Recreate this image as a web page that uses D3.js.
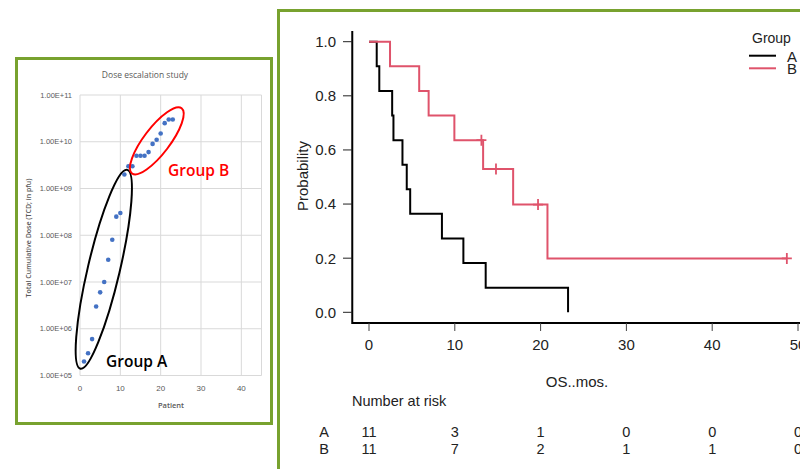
<!DOCTYPE html>
<html>
<head>
<meta charset="utf-8">
<script src="https://cdn.jsdelivr.net/npm/d3@7"></script>
<style>
  body { margin: 0; background: #fff; }
  svg { display: block; }
</style>
</head>
<body>
<div id="chart"></div>
<script>
// ---- data: dose escalation (left) ----
const patients = [1,2,3,4,5,6,7,8,9,10,11,12,13,14,15,16,17,18,19,20,21,22,23];
const doses = [2e5,3e5,6e5,3e6,6e6,1e7,3e7,8e7,2.5e8,3e8,2e9,3e9,3e9,5e9,5e9,5e9,6e9,9e9,1.1e10,1.5e10,2.5e10,3e10,3e10];
const doseTicks = [1e5,1e6,1e7,1e8,1e9,1e10,1e11];
const patientTicks = [0,10,20,30,40];

// ---- data: survival (right) ----
const groups = ["A","B"];
const A_times = [0.9,1.2,2.7,2.85,3.9,4.4,4.8,8.5,11.0,13.6,23.2];
const A_surv  = [0.909,0.818,0.727,0.636,0.545,0.455,0.364,0.273,0.182,0.091,0];
const B_times = [2.45,5.85,6.95,9.95,13.3,16.8,20.8,48.7];
const B_surv  = [0.909,0.818,0.727,0.636,0.530,0.398,0.199,0.199];
const B_censor_times = [13.1,14.8,19.7,48.7];
const B_censor_surv  = [0.636,0.530,0.398,0.199];
const timeTicks = [0,10,20,30,40,50];
const probTicks = [0,0.2,0.4,0.6,0.8,1.0];
const riskA = [11,3,1,0,0,0];
const riskB = [11,7,2,1,1,0];

const width = 800, height = 469;
const green = "#78a22f";
const grayTxt = "#595959";

const svg = d3.select("#chart").append("svg")
  .attr("width", width).attr("height", height);

//================ left panel =================
svg.append("rect")
  .attr("x", 16.5).attr("y", 58.5).attr("width", 255).attr("height", 365)
  .attr("fill", "#fff").attr("stroke", green).attr("stroke-width", 3);

const xL = d3.scaleLinear().domain([0,45]).range([80, 261.5]);
const yL = d3.scaleLog().domain([1e5,1e11]).range([375.5, 95]);

const gL = svg.append("g");

// gridlines
gL.selectAll(".hgrid").data(doseTicks).enter().append("line")
  .attr("x1", xL(0)).attr("x2", xL(45))
  .attr("y1", d => yL(d)).attr("y2", d => yL(d))
  .attr("stroke", "#d9d9d9").attr("stroke-width", 1);
gL.selectAll(".vgrid").data(patientTicks.concat([45])).enter().append("line")
  .attr("x1", d => xL(d)).attr("x2", d => xL(d))
  .attr("y1", yL(1e5)).attr("y2", yL(1e11))
  .attr("stroke", "#d9d9d9").attr("stroke-width", 1);

// tick labels
gL.selectAll(".ylab").data(doseTicks).enter().append("text")
  .attr("x", 72).attr("y", d => yL(d)).attr("dy", "0.35em")
  .attr("text-anchor", "end")
  .style("font-family", "Liberation Sans, Arial, sans-serif")
  .style("font-size", "7.5px").attr("fill", grayTxt)
  .text(d => d.toExponential(2).toUpperCase().replace(/E\+(\d)$/, "E+0$1"));
gL.selectAll(".xlab").data(patientTicks).enter().append("text")
  .attr("x", d => xL(d)).attr("y", 391)
  .attr("text-anchor", "middle")
  .style("font-family", "Liberation Sans, Arial, sans-serif")
  .style("font-size", "8px").attr("fill", grayTxt)
  .text(d => d);

gL.append("text").attr("x", 145).attr("y", 78)
  .attr("text-anchor", "middle")
  .style("font-family", "Open Sans, sans-serif")
  .style("font-size", "8.5px").attr("fill", grayTxt)
  .text("Dose escalation study");
gL.append("text").attr("x", 171).attr("y", 408)
  .attr("text-anchor", "middle")
  .style("font-family", "Open Sans, sans-serif").style("font-weight", "600")
  .style("font-size", "7.5px").attr("fill", grayTxt)
  .text("Patient");
gL.append("text")
  .attr("transform", "translate(31,238) rotate(-90)")
  .attr("text-anchor", "middle")
  .style("font-family", "Open Sans, sans-serif").style("font-weight", "600")
  .style("font-size", "7px").attr("fill", grayTxt)
  .text("Total Cumulative Dose (TCD; in pfu)");

// points
gL.selectAll(".dot").data(patients).enter().append("circle")
  .attr("cx", (d, i) => xL(d)).attr("cy", (d, i) => yL(doses[i]))
  .attr("r", 2.3).attr("fill", "#4472c4");

// ellipses drawn between two data-space end points
function groupEllipse(p1, p2, ry, color){
  const x1 = xL(p1[0]), y1 = yL(p1[1]), x2 = xL(p2[0]), y2 = yL(p2[1]);
  const cx = (x1+x2)/2, cy = (y1+y2)/2;
  const rx = Math.hypot(x2-x1, y2-y1)/2;
  const ang = Math.atan2(y2-y1, x2-x1)*180/Math.PI;
  gL.append("ellipse")
    .attr("transform", "translate("+cx+","+cy+") rotate("+ang+")")
    .attr("rx", rx).attr("ry", ry)
    .attr("fill", "none").attr("stroke", color).attr("stroke-width", 2);
}
groupEllipse([0.1,1.4e5],[11.7,2.5e9], 16, "#000");
groupEllipse([12.9,2.1e9],[25.2,5.2e10], 13, "#ff0000");

gL.append("text").attr("x", 106).attr("y", 367)
  .style("font-family", "Open Sans, sans-serif").style("font-weight", "600")
  .style("font-size", "15.5px").attr("fill", "#000")
  .text("Group A");
gL.append("text").attr("x", 168).attr("y", 176)
  .style("font-family", "Open Sans, sans-serif").style("font-weight", "600")
  .style("font-size", "15.5px").attr("fill", "#ff0000")
  .text("Group B");

//================ right panel =================
svg.append("rect")
  .attr("x", 278.5).attr("y", 10.5).attr("width", 600).attr("height", 600)
  .attr("fill", "#fff").attr("stroke", green).attr("stroke-width", 3);

const xR = d3.scaleLinear().domain([0,50]).range([369, 798]);
const yR = d3.scaleLinear().domain([0,1]).range([312.3, 41.7]);
const font = "Liberation Sans, Arial, sans-serif";
const gR = svg.append("g");

// axis frame (L shaped)
gR.append("path")
  .attr("d", "M"+xR(-1.95)+","+yR(1.04)+"V"+yR(-0.04)+"H"+xR(55))
  .attr("fill", "none").attr("stroke", "#000").attr("stroke-width", 2);

// y axis ticks
gR.selectAll(".yt").data(probTicks).enter().append("line")
  .attr("x1", 343).attr("x2", xR(-1.95))
  .attr("y1", d => yR(d)).attr("y2", d => yR(d))
  .attr("stroke", "#222").attr("stroke-width", 1);
gR.selectAll(".ytl").data(probTicks).enter().append("text")
  .attr("x", 336).attr("y", d => yR(d)).attr("dy", "0.36em")
  .attr("text-anchor", "end")
  .style("font-family", font).style("font-size", "15px").attr("fill", "#222")
  .text(d => d.toFixed(1));

// x axis ticks
gR.selectAll(".xt").data(timeTicks).enter().append("line")
  .attr("x1", d => xR(d)).attr("x2", d => xR(d))
  .attr("y1", yR(-0.04)).attr("y2", 331)
  .attr("stroke", "#444").attr("stroke-width", 1);
gR.selectAll(".xtl").data(timeTicks).enter().append("text")
  .attr("x", d => xR(d)).attr("y", 345).attr("dy", "0.36em")
  .attr("text-anchor", "middle")
  .style("font-family", font).style("font-size", "15px").attr("fill", "#222")
  .text(d => d);

gR.append("text")
  .attr("transform", "translate(303,176) rotate(-90)")
  .attr("text-anchor", "middle").attr("dy", "0.36em")
  .style("font-family", font).style("font-size", "15px").attr("fill", "#222")
  .text("Probability");
gR.append("text").attr("x", 577).attr("y", 382).attr("dy", "0.36em")
  .attr("text-anchor", "middle")
  .style("font-family", font).style("font-size", "15px").attr("fill", "#222")
  .text("OS..mos.");

// survival curves
const stepLine = d3.line().x(d => xR(d[0])).y(d => yR(d[1])).curve(d3.curveStepAfter);
const ptsA = [[0,1]].concat(A_times.map((t,i) => [t, A_surv[i]]));
const ptsB = [[0,1]].concat(B_times.map((t,i) => [t, B_surv[i]]));
const colors = {A: "#000000", B: "#df536b"};

gR.append("path").attr("d", stepLine(ptsA))
  .attr("fill", "none").attr("stroke", colors.A).attr("stroke-width", 2);
gR.append("path").attr("d", stepLine(ptsB))
  .attr("fill", "none").attr("stroke", colors.B).attr("stroke-width", 2);

// censor marks (+)
B_censor_times.forEach((t, i) => {
  const cx = xR(t), cy = yR(B_censor_surv[i]);
  gR.append("path")
    .attr("d", "M"+(cx-5)+","+cy+"H"+(cx+5)+"M"+cx+","+(cy-5.5)+"V"+(cy+5.5))
    .attr("stroke", colors.B).attr("stroke-width", 1.8).attr("fill", "none");
});

// legend
gR.append("text").attr("x", 752).attr("y", 38).attr("dy", "0.36em")
  .style("font-family", font).style("font-size", "14px").attr("fill", "#222")
  .text("Group");
groups.forEach((g, i) => {
  const ly = 55.7 + i*12.6;
  gR.append("line").attr("x1", 749).attr("x2", 776)
    .attr("y1", ly).attr("y2", ly)
    .attr("stroke", colors[g]).attr("stroke-width", 2);
  gR.append("text").attr("x", 787).attr("y", ly+0.5).attr("dy", "0.36em")
    .style("font-family", font).style("font-size", "15px").attr("fill", "#222")
    .text(g);
});

// number at risk table
gR.append("text").attr("x", 352).attr("y", 401).attr("dy", "0.36em")
  .style("font-family", font).style("font-size", "14.5px").attr("fill", "#222")
  .text("Number at risk");
[riskA, riskB].forEach((row, r) => {
  const ry = 432 + r*16.5;
  gR.append("text").attr("x", 324).attr("y", ry).attr("dy", "0.36em")
    .attr("text-anchor", "middle")
    .style("font-family", font).style("font-size", "14.5px").attr("fill", "#222")
    .text(groups[r]);
  gR.selectAll(".risk"+r).data(row).enter().append("text")
    .attr("x", (d, i) => xR(timeTicks[i])).attr("y", ry).attr("dy", "0.36em")
    .attr("text-anchor", "middle")
    .style("font-family", font).style("font-size", "14.5px").attr("fill", "#222")
    .text(d => d);
});
</script>
</body>
</html>
